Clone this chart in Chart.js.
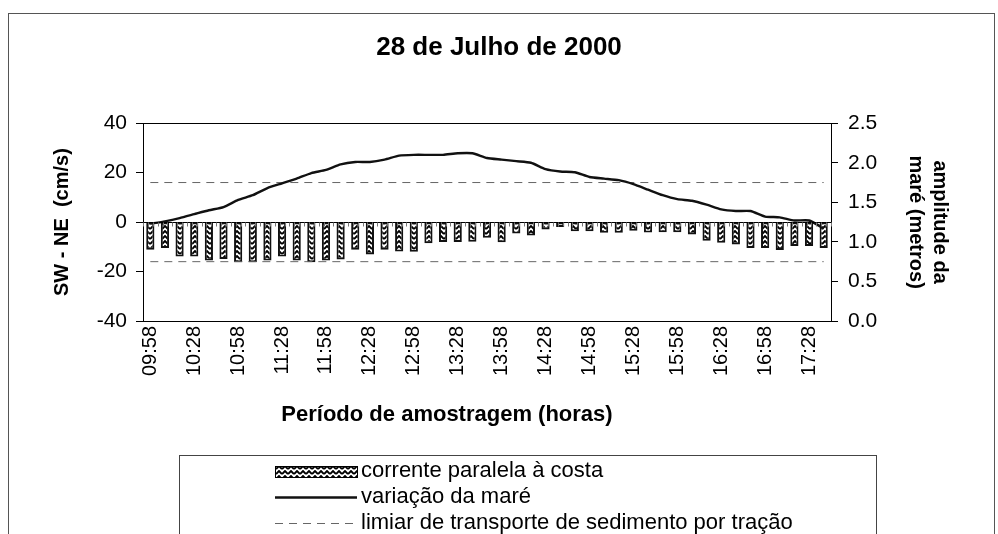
<!DOCTYPE html>
<html>
<head>
<meta charset="utf-8">
<title>28 de Julho de 2000</title>
<script src="https://cdn.jsdelivr.net/npm/chart.js@4.4.0/dist/chart.umd.min.js"></script>
<style>
  html, body { margin: 0; padding: 0; background: #fff; }
  #wrap { width: 998px; height: 534px; }
</style>
</head>
<body>
<div id="wrap"><canvas id="mareChart" width="998" height="534"></canvas></div>
<script>
// ── dados ──
const horas = ['09:58', '10:08', '10:18', '10:28', '10:38', '10:48', '10:58', '11:08',
               '11:18', '11:28', '11:38', '11:48', '11:58', '12:08', '12:18', '12:28',
               '12:38', '12:48', '12:58', '13:08', '13:18', '13:28', '13:38', '13:48',
               '13:58', '14:08', '14:18', '14:28', '14:38', '14:48', '14:58', '15:08',
               '15:18', '15:28', '15:38', '15:48', '15:58', '16:08', '16:18', '16:28',
               '16:38', '16:48', '16:58', '17:08', '17:18', '17:28', '17:38'];

// corrente paralela à costa (cm/s)
const corrente = [-11.2, -10.5, -13.9, -13.9, -15.5, -14.9, -16.2, -16.2, -15.5, -13.9,
                  -15.5, -16.2, -15.5, -15.1, -11.2, -13.1, -11.2, -11.9, -12.0, -8.6,
                  -8.0, -8.0, -7.9, -6.3, -8.1, -4.6, -5.4, -3.0, -2.0, -3.7,
                  -3.7, -4.3, -4.3, -3.5, -4.2, -4.1, -4.1, -5.0, -7.5, -8.4,
                  -9.1, -10.5, -10.5, -11.3, -9.7, -9.7, -10.5];

// variação da maré (metros)
const mare = [1.23, 1.26, 1.30, 1.35, 1.40, 1.44, 1.53, 1.59, 1.68, 1.74, 1.80, 1.87,
              1.91, 1.98, 2.01, 2.01, 2.04, 2.09, 2.10, 2.10, 2.10, 2.12, 2.12, 2.06,
              2.04, 2.02, 2.00, 1.92, 1.89, 1.88, 1.82, 1.80, 1.78, 1.73, 1.66, 1.59,
              1.54, 1.52, 1.47, 1.41, 1.39, 1.39, 1.32, 1.31, 1.27, 1.27, 1.17];

// limiar de transporte de sedimento por tração (cm/s, ±)
const limiar = 16;

const ticksEsq = [-40, -20, 0, 20, 40];
const ticksDir = [0, 0.5, 1, 1.5, 2, 2.5];

const tituloX = 'Período de amostragem (horas)';

const fonte = "'Liberation Sans', Arial, sans-serif";
Chart.defaults.font.family = fonte;
Chart.defaults.color = '#000';

const canvas = document.getElementById('mareChart');
const ctx = canvas.getContext('2d');

// padrão em zigue-zague das barras
function padraoZigzag() {
    const c = document.createElement('canvas');
    c.width = 6; c.height = 5;
    const p = c.getContext('2d');
    p.fillStyle = '#fff';
    p.fillRect(0, 0, 6, 5);
    p.strokeStyle = '#000';
    p.lineWidth = 1.9;
    p.beginPath();
    p.moveTo(0, 4); p.lineTo(3, 1); p.lineTo(6, 4);
    p.stroke();
    return ctx.createPattern(c, 'repeat');
}
const zigzag = padraoZigzag();

// moldura externa, moldura da área do gráfico e eixo no zero
const moldura = {
    id: 'moldura',
    beforeDraw(chart) {
        const c = chart.ctx;
        c.save();
        c.strokeStyle = '#555';
        c.lineWidth = 1;
        c.strokeRect(8.5, 13.5, 986, 540);
        c.restore();
    },
    afterDatasetsDraw(chart) {
        const c = chart.ctx;
        const a = chart.chartArea;
        const y0 = Math.round(chart.scales.y.getPixelForValue(0)) + 0.5;
        c.save();
        c.strokeStyle = '#000';
        c.lineWidth = 1;
        c.strokeRect(Math.round(a.left) + 0.5, Math.round(a.top) + 0.5,
                     Math.round(a.right - a.left), Math.round(a.bottom - a.top));
        // eixo das categorias cruzando no zero
        c.beginPath();
        c.moveTo(a.left, y0); c.lineTo(a.right, y0);
        c.stroke();
        const passo = (a.right - a.left) / horas.length;
        c.strokeStyle = '#777';
        c.beginPath();
        for (let i = 0; i <= horas.length * 3; i++) {
            const xx = Math.round(a.left + i * passo / 3) + 0.5;
            c.moveTo(xx, y0); c.lineTo(xx, y0 + 4);
        }
        c.stroke();
        // título do eixo x (deslocado para a esquerda como no original)
        c.font = 'bold 22px ' + fonte;
        c.fillStyle = '#000';
        c.textAlign = 'center';
        c.textBaseline = 'middle';
        c.fillText(tituloX, 447, 415);
        c.restore();
    }
};

// legenda em caixa, um item por linha
const legenda = {
    id: 'legendaCaixa',
    afterDraw(chart) {
        const c = chart.ctx;
        c.save();
        c.strokeStyle = '#444';
        c.lineWidth = 1;
        c.strokeRect(179.5, 455.5, 697, 100);
        const itens = chart.data.datasets.filter(d => !d.semLegenda);
        c.font = '22px ' + fonte;
        c.textBaseline = 'middle';
        itens.forEach((d, i) => {
            const y = 471 + i * 26;
            const x0 = 275, x1 = 357;
            if (d.type === 'line') {
                c.beginPath();
                c.strokeStyle = d.borderColor;
                c.lineWidth = d.borderWidth;
                c.setLineDash(d.borderDash || []);
                c.moveTo(x0, Math.round(y) + 0.5); c.lineTo(x1, Math.round(y) + 0.5);
                c.stroke();
                c.setLineDash([]);
            } else {
                c.fillStyle = d.backgroundColor;
                c.fillRect(x0, y - 5, x1 - x0, 11);
                c.strokeStyle = '#000';
                c.lineWidth = 1;
                c.strokeRect(x0 + 0.5, Math.round(y - 5) + 0.5, x1 - x0, 11);
            }
            c.fillStyle = '#000';
            c.fillText(d.label, x1 + 4, y);
        });
        c.restore();
    }
};

new Chart(canvas, {
    type: 'bar',
    data: {
        labels: horas,
        datasets: [
            {
                label: 'corrente paralela à costa',
                data: corrente,
                yAxisID: 'y',
                backgroundColor: zigzag,
                borderColor: '#111',
                borderWidth: 2,
                borderSkipped: false,
                barPercentage: 0.56,
                categoryPercentage: 1,
                order: 2,
            },
            {
                label: 'variação da maré',
                type: 'line',
                data: mare,
                yAxisID: 'y1',
                borderColor: '#111',
                borderWidth: 2.4,
                pointRadius: 0,
                tension: 0.2,
                fill: false,
                order: 0,
            },
            {
                label: 'limiar de transporte de sedimento por tração',
                type: 'line',
                data: [{ x: horas[0], y: limiar }, { x: horas[horas.length - 1], y: limiar }],
                yAxisID: 'y',
                borderColor: '#666',
                borderWidth: 1,
                borderDash: [8, 6],
                pointRadius: 0,
                fill: false,
                order: 1,
            },
            {
                label: 'limiar inferior',
                semLegenda: true,
                type: 'line',
                data: [{ x: horas[0], y: -limiar }, { x: horas[horas.length - 1], y: -limiar }],
                yAxisID: 'y',
                borderColor: '#666',
                borderWidth: 1,
                borderDash: [8, 6],
                pointRadius: 0,
                fill: false,
                order: 1,
            }
        ]
    },
    options: {
        responsive: false,
        animation: false,
        events: [],
        layout: { padding: 0 },
        plugins: {
            legend: { display: false },
            tooltip: { enabled: false },
            title: {
                display: true,
                text: '28 de Julho de 2000',
                font: { size: 26, weight: 'bold' },
                color: '#000',
                padding: { top: 32, bottom: 60 }
            }
        },
        scales: {
            x: {
                grid: { display: false, drawTicks: false },
                border: { display: false },
                ticks: {
                    autoSkip: false,
                    minRotation: 90, maxRotation: 90,
                    padding: 5,
                    font: { size: 20 },
                    callback: function (v, i) { return i % 3 === 0 ? horas[i] : ''; }
                },
                afterFit: s => { s.height = 213; }
            },
            y: {
                position: 'left',
                min: -40, max: 40,
                afterBuildTicks: s => { s.ticks = ticksEsq.map(v => ({ value: v })); },
                grid: { drawOnChartArea: false, drawTicks: true, tickLength: 7, color: '#000' },
                border: { display: true, color: '#000' },
                ticks: { padding: 9, font: { size: 21 } },
                title: {
                    display: true,
                    text: 'SW - NE  (cm/s)',
                    font: { size: 20, weight: 'bold' },
                    padding: { top: 50, bottom: 0 }
                },
                afterFit: s => { s.width = 143; }
            },
            y1: {
                position: 'right',
                min: 0, max: 2.5,
                afterBuildTicks: s => { s.ticks = ticksDir.map(v => ({ value: v })); },
                grid: { drawOnChartArea: false, drawTicks: true, tickLength: 7, color: '#000' },
                border: { display: true, color: '#000' },
                ticks: { padding: 10, font: { size: 21 }, callback: v => Number(v).toFixed(1) },
                title: {
                    display: true,
                    text: ['amplitude da', 'maré (metros)'],
                    font: { size: 20, weight: 'bold' },
                    padding: { top: 46, bottom: 0 }
                },
                afterFit: s => { s.width = 167; }
            }
        }
    },
    plugins: [moldura, legenda]
});
</script>
</body>
</html>
